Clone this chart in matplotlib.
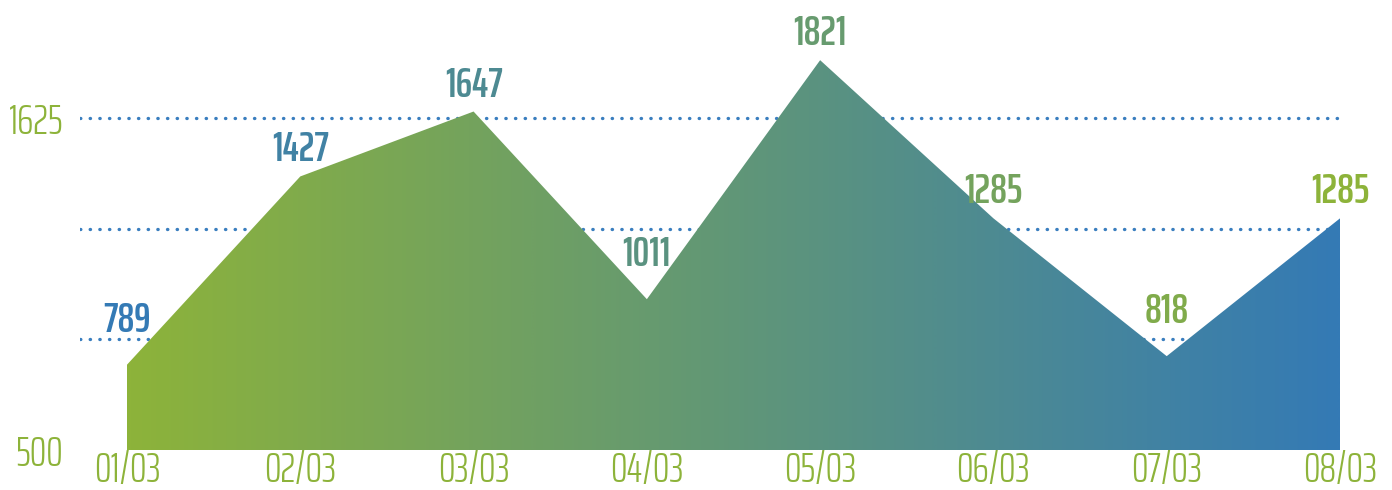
import numpy as np
import matplotlib.pyplot as plt
from matplotlib.colors import LinearSegmentedColormap
from matplotlib.patches import Polygon

dates = ['01/03', '02/03', '03/03', '04/03', '05/03', '06/03', '07/03', '08/03']
values = [789, 1427, 1647, 1011, 1821, 1285, 818, 1285]
grid_levels = [875, 1250, 1625]
ytick_values = [500, 1625]

green = '#8db33a'
blue = '#347ab5'
cmap = LinearSegmentedColormap.from_list('gb', [green, blue])

plt.rcParams['font.family'] = ['Saira ExtraCondensed', 'Roboto Condensed', 'DejaVu Sans']

fig = plt.figure(figsize=(13.92, 4.9), dpi=100)
ax = fig.add_axes([80 / 1392, 40 / 490, 1260 / 1392, 450 / 490])
ax.set_xlim(-47 / 173.3, 7)
ax.set_ylim(500, 500 + 450 / 0.2951)

x = np.arange(len(values))

# dotted guide lines behind the area
for g in grid_levels:
    ax.axhline(g, color='#3a7ebf', lw=2.4, linestyle=(0, (0.1, 2.8)),
               dash_capstyle='round', zorder=1)

# area with horizontal gradient
verts = [(0, 500)] + list(zip(x, values)) + [(x[-1], 500)]
poly = Polygon(verts, closed=True, facecolor='none', edgecolor='none')
ax.add_patch(poly)
grad = np.linspace(0, 1, 512).reshape(1, -1)
im = ax.imshow(grad, cmap=cmap, aspect='auto', extent=(0, x[-1], 500, max(values)),
               zorder=2, interpolation='bilinear')
im.set_clip_path(poly)

# value labels, colour runs the other way
for i, v in enumerate(values):
    left = values[i - 1] if i > 0 else np.inf
    right = values[i + 1] if i < len(values) - 1 else np.inf
    valley = v < left and v < right
    off = 18 if valley else 5
    c = cmap(1 - i / (len(values) - 1))
    ax.annotate(str(v), (i, v), xytext=(0, off), textcoords='offset points',
                ha='center', va='bottom', fontsize=30, fontweight=600,
                color=c, annotation_clip=False, zorder=3)

ax.set_xticks(x)
ax.set_xticklabels(dates)
ax.set_yticks(ytick_values)
ax.tick_params(axis='both', length=0, labelsize=30, labelcolor=green)
for t in ax.get_xticklabels() + ax.get_yticklabels():
    t.set_fontweight(300)
ax.tick_params(axis='x', pad=0)
ax.tick_params(axis='y', pad=12)
for s in ax.spines.values():
    s.set_visible(False)

fig.savefig('out.png', dpi=100)
